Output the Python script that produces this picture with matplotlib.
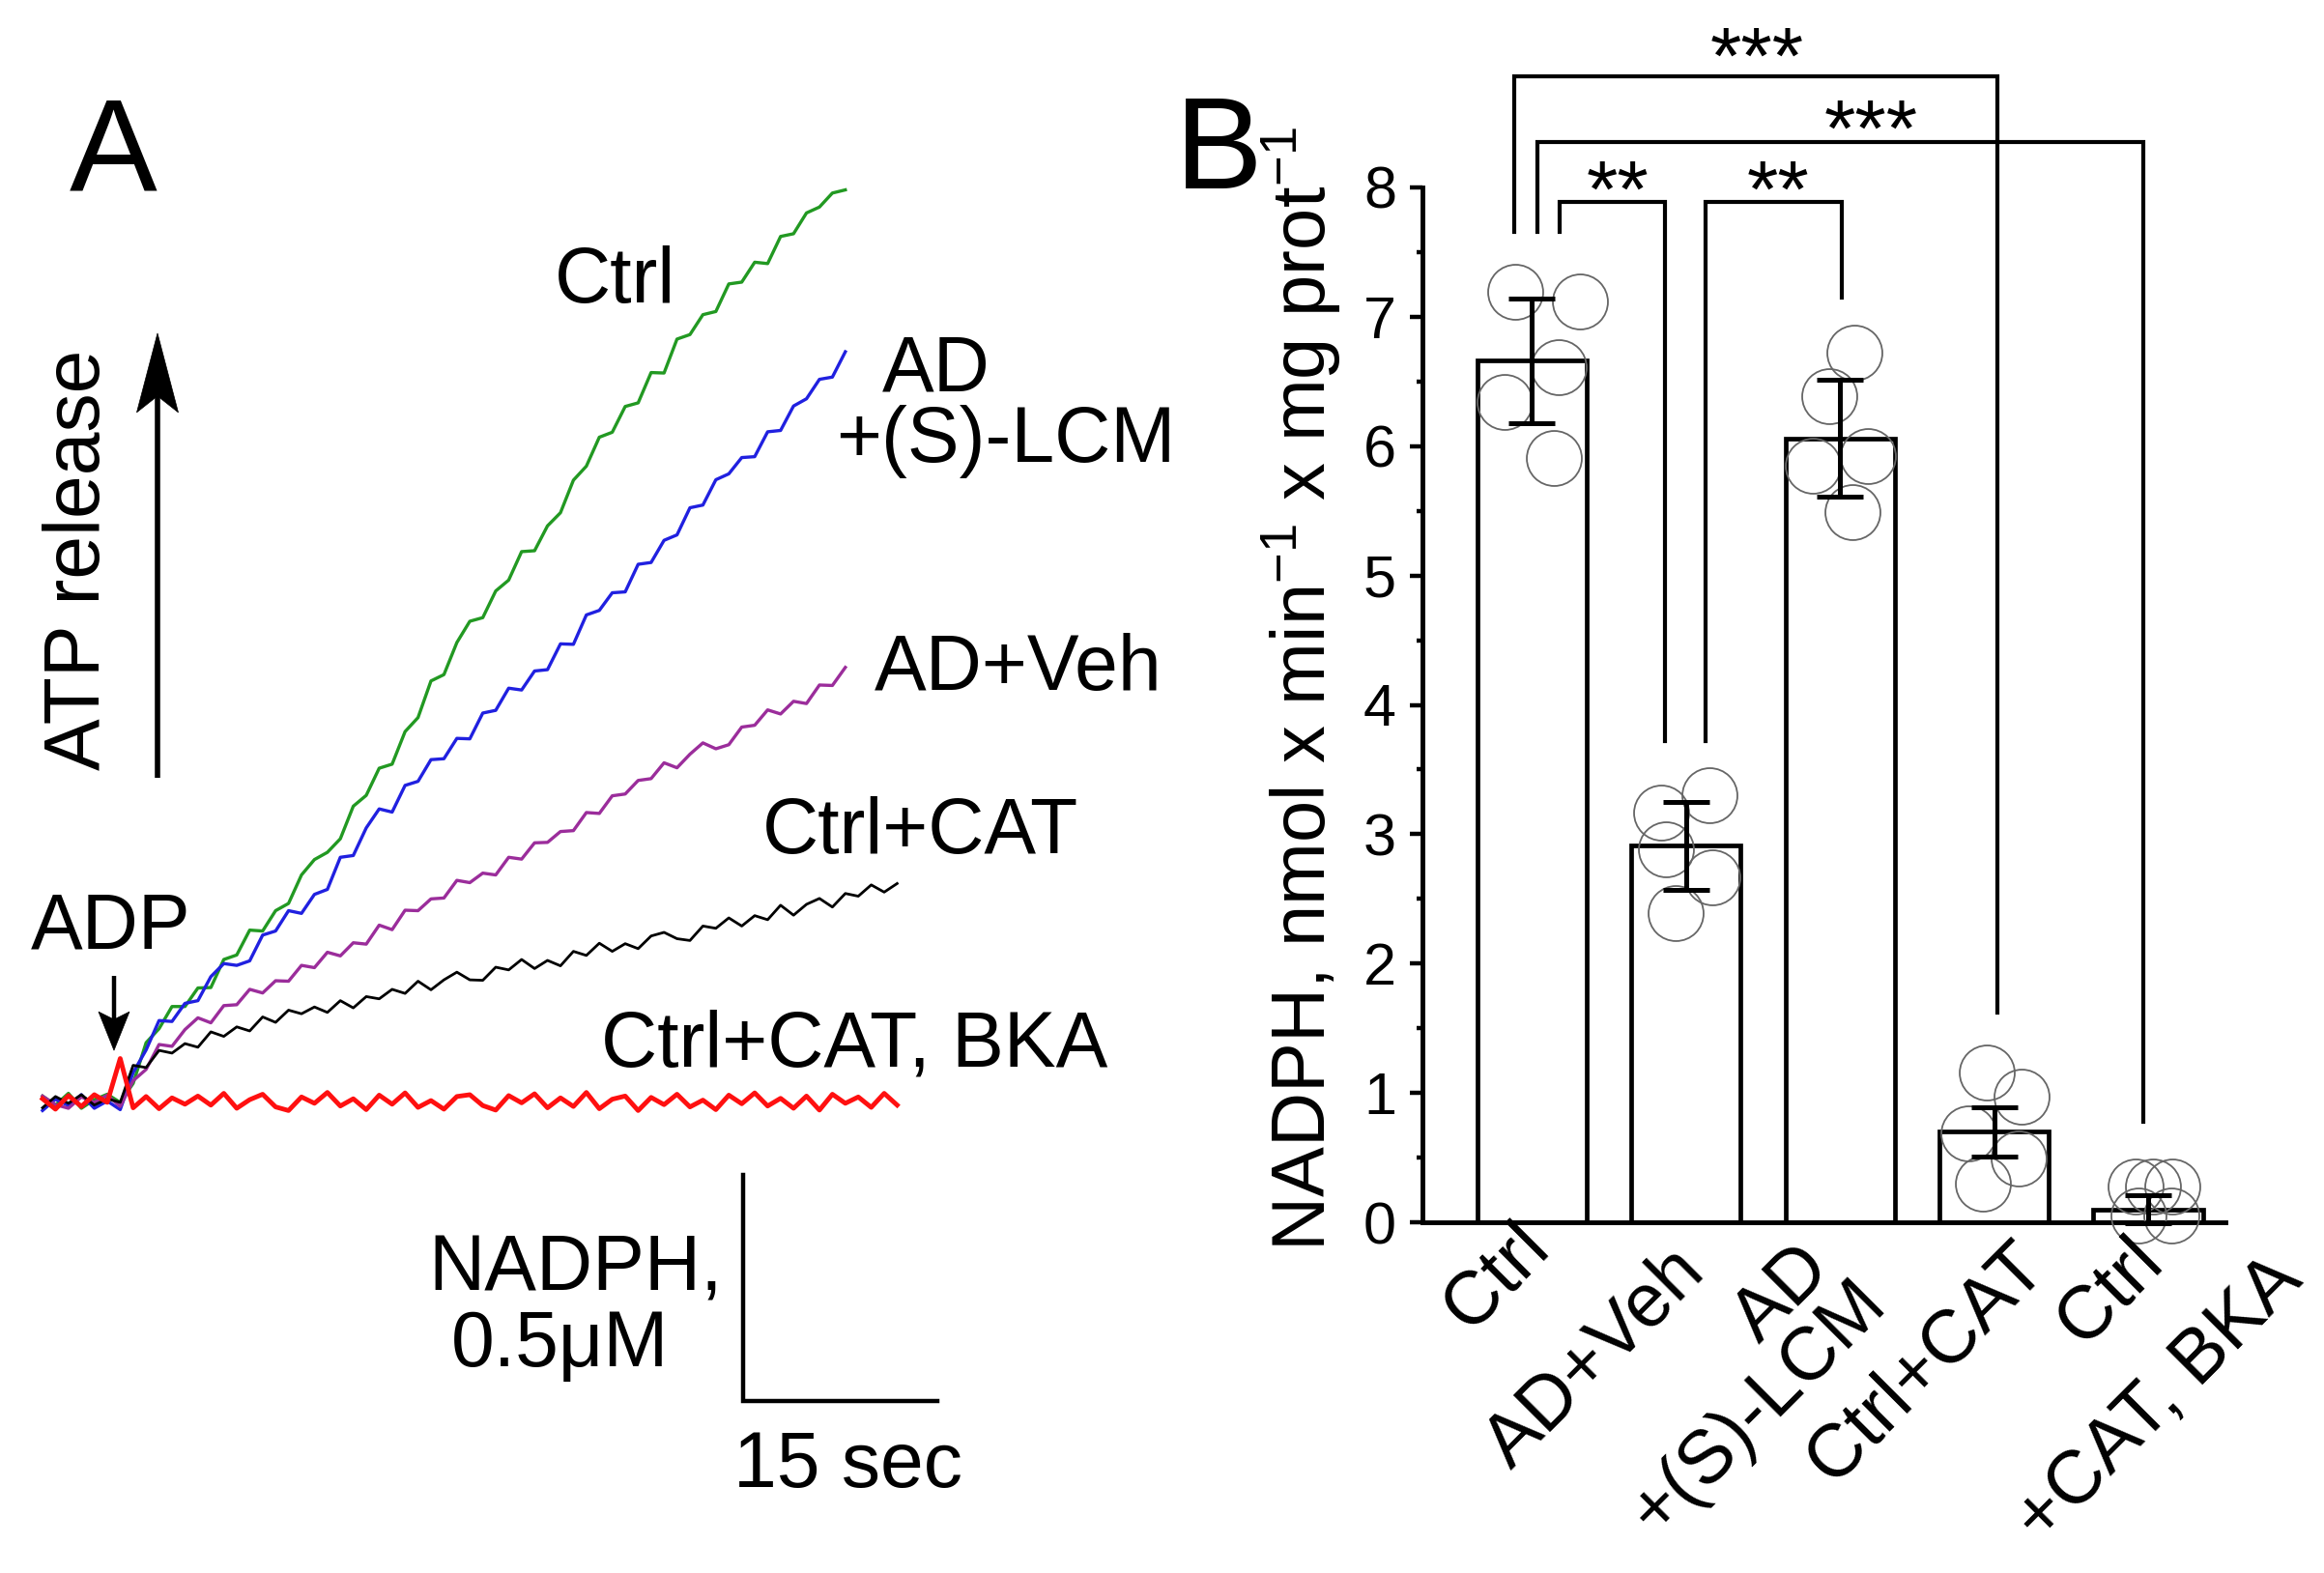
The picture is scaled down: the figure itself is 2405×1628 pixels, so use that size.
import matplotlib
matplotlib.use('Agg')
import matplotlib.pyplot as plt
import numpy as np
from matplotlib.patches import Polygon
from matplotlib.ticker import MultipleLocator
from matplotlib.transforms import ScaledTranslation

plt.rcParams['font.family'] = ['Liberation Sans', 'DejaVu Sans']
plt.rcParams['mathtext.fontset'] = 'custom'
plt.rcParams['mathtext.rm'] = 'Liberation Sans'
plt.rcParams['mathtext.default'] = 'regular'

# Panel A: NADPH traces, 1 s steps, NADPH (uM) above baseline
time_s = list(range(67))
ctrl_trace = [0.012, -0.008, 0.018, -0.015, 0.004, 0.016, -0.002, 0.040, 0.130, 0.161,
              0.210, 0.210, 0.251, 0.252, 0.314, 0.324, 0.379, 0.377, 0.422, 0.438,
              0.501, 0.535, 0.551, 0.581, 0.653, 0.677, 0.737, 0.746, 0.818, 0.849,
              0.930, 0.944, 1.015, 1.062, 1.070, 1.129, 1.153, 1.216, 1.218, 1.273,
              1.302, 1.374, 1.405, 1.469, 1.480, 1.537, 1.545, 1.612, 1.611, 1.686,
              1.696, 1.740, 1.747, 1.808, 1.812, 1.856, 1.853, 1.913, 1.919, 1.965,
              1.978, 2.009, 2.016]
lcm_trace = [-0.020, 0.005, -0.009, 0.015, -0.015, 0.001, -0.018, 0.064, 0.114, 0.179,
             0.177, 0.217, 0.223, 0.276, 0.305, 0.301, 0.311, 0.368, 0.377, 0.422,
             0.416, 0.458, 0.469, 0.540, 0.544, 0.605, 0.647, 0.640, 0.699, 0.708,
             0.756, 0.758, 0.803, 0.802, 0.859, 0.865, 0.914, 0.910, 0.952, 0.955,
             1.012, 1.011, 1.076, 1.086, 1.125, 1.127, 1.188, 1.192, 1.241, 1.253,
             1.313, 1.319, 1.375, 1.388, 1.424, 1.426, 1.481, 1.484, 1.538, 1.554,
             1.597, 1.602, 1.658]
veh_trace = [0.012, -0.007, -0.015, 0.010, -0.002, 0.014, -0.011, 0.046, 0.071, 0.126,
             0.122, 0.159, 0.185, 0.174, 0.212, 0.214, 0.248, 0.240, 0.267, 0.266,
             0.301, 0.296, 0.330, 0.322, 0.351, 0.348, 0.390, 0.380, 0.423, 0.422,
             0.448, 0.450, 0.489, 0.484, 0.505, 0.501, 0.540, 0.536, 0.572, 0.573,
             0.597, 0.599, 0.639, 0.637, 0.676, 0.680, 0.710, 0.714, 0.749, 0.738,
             0.768, 0.793, 0.780, 0.789, 0.828, 0.832, 0.866, 0.857, 0.885, 0.880,
             0.921, 0.920, 0.960]
cat_trace = [-0.014, 0.011, -0.004, 0.015, -0.008, 0.006, -0.002, 0.080, 0.075, 0.113,
             0.107, 0.128, 0.120, 0.154, 0.144, 0.165, 0.156, 0.187, 0.175, 0.202,
             0.194, 0.209, 0.197, 0.223, 0.207, 0.232, 0.227, 0.248, 0.239, 0.266,
             0.247, 0.269, 0.286, 0.269, 0.268, 0.297, 0.291, 0.314, 0.294, 0.312,
             0.300, 0.332, 0.323, 0.350, 0.332, 0.349, 0.338, 0.366, 0.374, 0.360,
             0.356, 0.388, 0.383, 0.406, 0.388, 0.411, 0.402, 0.434, 0.412, 0.436,
             0.449, 0.430, 0.460, 0.454, 0.479, 0.463, 0.482]
bka_trace = [0.006, -0.017, 0.013, -0.011, 0.015, -0.002, 0.095, -0.014, 0.011, -0.016,
             0.008, -0.006, 0.012, -0.008, 0.018, -0.015, 0.004, 0.016, -0.012, -0.020,
             0.010, -0.004, 0.020, -0.010, 0.006, -0.018, 0.014, -0.006, 0.019, -0.013,
             0.002, -0.017, 0.011, 0.015, -0.009, -0.019, 0.013, -0.003, 0.017, -0.014,
             0.008, -0.011, 0.020, -0.016, 0.005, 0.012, -0.020, 0.009, -0.007, 0.016,
             -0.012, 0.003, -0.018, 0.014, -0.005, 0.019, -0.010, 0.007, -0.015, 0.012,
             -0.019, 0.016, -0.004, 0.010, -0.013, 0.018, -0.008]

# Panel B: NADPH production rate
groups = ['Ctrl', 'AD+Veh', 'AD\n+(S)-LCM', 'Ctrl+CAT', 'Ctrl\n+CAT, BKA']
means = [6.66, 2.91, 6.06, 0.70, 0.10]
sds = [0.48, 0.34, 0.45, 0.19, 0.11]
points = [[7.19, 7.12, 6.61, 6.34, 5.91],
          [3.17, 3.30, 2.88, 2.67, 2.39],
          [6.72, 6.39, 5.85, 5.92, 5.49],
          [1.16, 0.97, 0.69, 0.49, 0.30],
          [0.28, 0.28, 0.28, 0.05, 0.05]]

# figure: 2405 x 1628 px
W, H = 2405, 1628
fig = plt.figure(figsize=(W / 100, H / 100), dpi=100)

# panel A lives in an invisible axes covering the figure, in s / uM units
PX_S, PX_UM = 13.4, 468.0
X0, Y0 = 44, 1140
ax_a = fig.add_axes([0, 0, 1, 1])
ax_a.set_xlim(-X0 / PX_S, (W - X0) / PX_S)
ax_a.set_ylim(-(H - Y0) / PX_UM, Y0 / PX_UM)
ax_a.axis('off')

ax_a.plot(time_s[:63], ctrl_trace, color='#229922', lw=2.4)
ax_a.plot(time_s[:63], lcm_trace, color='#2020e0', lw=2.4)
ax_a.plot(time_s[:63], veh_trace, color='#9b2d9b', lw=2.4)
ax_a.plot(time_s, cat_trace, color='black', lw=2.0)
ax_a.plot(time_s, bka_trace, color='#ff1010', lw=3.5)


def v_arrow(ax, x, y_tail, y_tip, head_len, head_w, notch, lw):
    # vertical arrow with a notched head, sizes in pixels
    hl = head_len / PX_UM
    hw = head_w / 2 / PX_S
    nt = notch / PX_UM
    s = 1 if y_tip > y_tail else -1
    base = y_tip - s * hl
    mid = base + s * nt
    ax.plot([x, x], [y_tail, mid], color='k', lw=lw, solid_capstyle='butt')
    ax.add_patch(Polygon([(x, y_tip), (x - hw, base), (x, mid), (x + hw, base)],
                         closed=True, fc='k', ec='k', lw=0.5))


v_arrow(ax_a, 8.88, 0.716, 1.699, 82, 43, 17, 4.0)
v_arrow(ax_a, 5.52, 0.278, 0.113, 40, 32, 8, 3.2)

# scale bar 15 s / 0.5 uM
ax_a.plot([54.07, 54.07, 54.07 + 15], [-0.162, -0.662, -0.662], color='k', lw=3.2,
          solid_joinstyle='miter')

fs = 58
ax_a.text(39.55, 1.767, 'Ctrl', fontsize=fs, ha='left', va='baseline')
ax_a.text(64.85, 1.571, 'AD', fontsize=fs, ha='left', va='baseline')
ax_a.text(61.27, 1.415, '+(S)-LCM', fontsize=fs, ha='left', va='baseline')
ax_a.text(64.25, 0.910, 'AD+Veh', fontsize=fs, ha='left', va='baseline')
ax_a.text(55.6, 0.549, 'Ctrl+CAT', fontsize=fs, ha='left', va='baseline')
ax_a.text(43.13, 0.079, 'Ctrl+CAT, BKA', fontsize=fs, ha='left', va='baseline')
ax_a.text(-0.9, 0.338, 'ADP', fontsize=fs, ha='left', va='baseline')
ax_a.text(2.84, 1.197, 'ATP release', fontsize=fs, rotation=90, ha='center', va='center')
ax_a.text(41.2, -0.417, 'NADPH,', fontsize=fs, ha='center', va='baseline')
ax_a.text(40.0, -0.585, '0.5\u03bcM', fontsize=fs, ha='center', va='baseline')
ax_a.text(62.2, -0.853, '15 sec', fontsize=fs, ha='center', va='baseline')
ax_a.text(2.09, 2.015, 'A', fontsize=98, ha='left', va='baseline')
ax_a.text(87.46, 2.019, 'B', fontsize=98, ha='left', va='baseline')

# panel B
ax_b = fig.add_axes([1472 / W, 1 - 1265 / H, 831 / W, 1071 / H])
ax_b.patch.set_alpha(0)
x = np.arange(1, 6)
ax_b.bar(x, means, width=0.71, color='white', edgecolor='k', linewidth=3.4, zorder=2)

jitter = [[-0.11, 0.31, 0.17, -0.18, 0.14],
          [-0.16, 0.15, -0.13, 0.17, -0.07],
          [0.09, -0.07, -0.18, 0.18, 0.08],
          [-0.05, 0.18, -0.17, 0.16, -0.07],
          [-0.08, 0.03, 0.16, -0.06, 0.15]]
for i in range(5):
    ax_b.plot(x[i] + np.array(jitter[i]), points[i], 'o', ms=41, mfc='none',
              mec='#666666', mew=1.3, zorder=3, clip_on=False)
ax_b.errorbar(x, means, yerr=sds, fmt='none', ecolor='k', elinewidth=3.6,
              capsize=17, capthick=3.6, zorder=4, clip_on=False)

ax_b.set_xlim(0.288, 5.502)
ax_b.set_ylim(0, 8)
ax_b.spines[['top', 'right']].set_visible(False)
ax_b.spines['left'].set_bounds(0, 8)
for sp in ('left', 'bottom'):
    ax_b.spines[sp].set_linewidth(3.5)
ax_b.set_yticks(range(9))
ax_b.yaxis.set_minor_locator(MultipleLocator(0.5))
ax_b.tick_params(axis='y', which='major', length=9.5, width=3.2, labelsize=44, pad=10)
ax_b.tick_params(axis='y', which='minor', length=4.5, width=3.2)
ax_b.tick_params(axis='x', length=0, labelbottom=False)
ax_b.set_ylabel('NADPH, nmol x min$^{-1}$ x mg prot$^{-1}$', fontsize=56)
ax_b.yaxis.set_label_coords(-0.099, 0.515)

# rotated category labels, one text per line (offsets in px from the bar foot)
label_pos = [[(-20, -12)], [(-18, 14)], [(-47, 10), (9, 46)], [(16, 8)],
             [(-22, 3), (122, 22)]]
for i, name in enumerate(groups):
    for line, (dx, dy) in zip(name.split('\n'), label_pos[i]):
        tr = ax_b.transData + ScaledTranslation(dx / 100, -dy / 100, fig.dpi_scale_trans)
        ax_b.text(x[i], 0, line, transform=tr, rotation=45, rotation_mode='anchor',
                  ha='right', va='top', fontsize=56)

# significance brackets
def bracket(ax, x1, x2, y, y1, y2, label, tx, ty):
    ax.plot([x1, x1, x2, x2], [y1, y, y, y2], color='k', lw=3.0, clip_on=False,
            solid_joinstyle='miter', zorder=5)
    ax.text(tx, ty, label, ha='center', va='baseline', fontsize=60, clip_on=False)


bracket(ax_b, 0.884, 4.02, 8.86, 7.66, 1.62, '***', 2.46, 8.80)
bracket(ax_b, 1.034, 4.97, 8.35, 7.66, 0.78, '***', 3.20, 8.24)
bracket(ax_b, 1.178, 1.863, 7.89, 7.66, 3.72, '**', 1.555, 7.77)
bracket(ax_b, 2.126, 3.01, 7.89, 3.72, 7.15, '**', 2.60, 7.77)

fig.savefig('out.png', dpi=100)
